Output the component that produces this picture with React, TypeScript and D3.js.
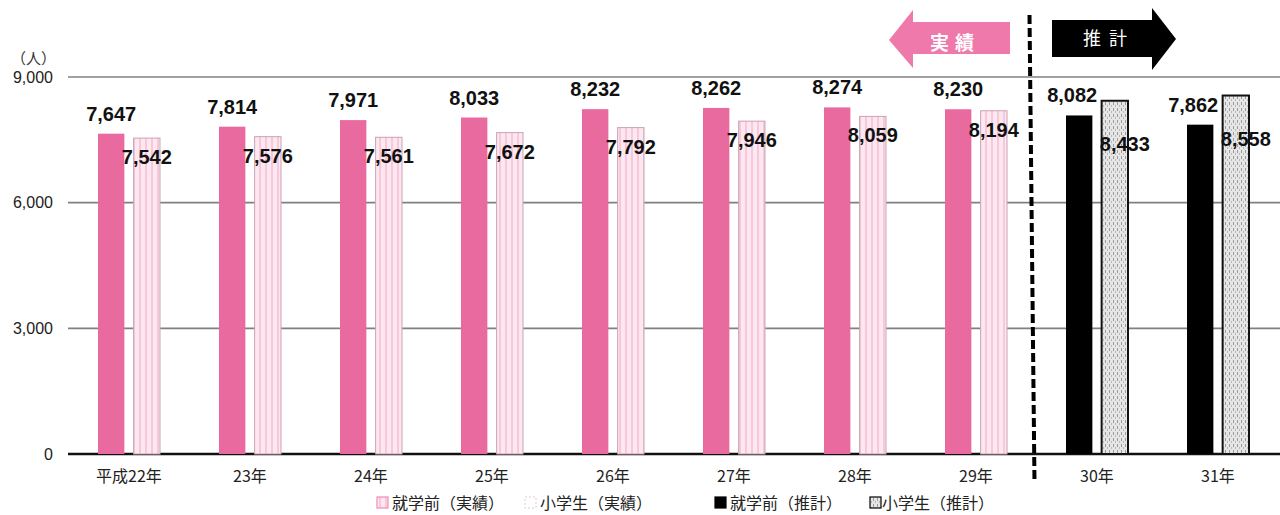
import * as d3 from "d3";

const years = ["平成22年", "23年", "24年", "25年", "26年", "27年", "28年", "29年", "30年", "31年"];
const preschool = [7647, 7814, 7971, 8033, 8232, 8262, 8274, 8230, 8082, 7862];
const elementary = [7542, 7576, 7561, 7672, 7792, 7946, 8059, 8194, 8433, 8558];
const phase = ["実績", "実績", "実績", "実績", "実績", "実績", "実績", "実績", "推計", "推計"];
const yTicks = [0, 3000, 6000, 9000];
const legendItems = ["就学前（実績）", "小学生（実績）", "就学前（推計）", "小学生（推計）"];

const W = 1280;
const H = 515;
const PINK = "#e96a9f";
const NUM_FONT = "'Liberation Sans', Arial, sans-serif";
const JP_FONT = "'Noto Sans CJK JP', sans-serif";

const fmt = d3.format(",");

const App = () => {
  const y = d3.scaleLinear().domain([0, 9000]).range([454, 77]);
  const x0 = d3.scaleBand<string>().domain(years).range([68.5, 1278.5]).padding(0);
  const step = x0.step();
  const x1 = d3
    .scaleBand<string>()
    .domain(["pre", "elem"])
    .range([(step - 62) / 2, (step + 62) / 2])
    .paddingInner(0.26);
  const bw = x1.bandwidth();

  // dashed divider sits at the start of the first estimate group
  const firstEst = phase.indexOf("推計");
  const splitX = x0(years[firstEst])! - 5;

  const legendX = [377, 525, 715, 870];

  return (
    <div style={{ position: "absolute", left: 0, top: 0 }}>
      <svg width={W} height={H} style={{ display: "block", background: "#fff" }}>
        <defs>
          <pattern id="stripe" width={6} height={12} patternUnits="userSpaceOnUse">
            <rect width={6} height={12} fill="#fde8f1" />
            <line x1={2} y1={0} x2={2} y2={12} stroke="#f5bcd3" strokeWidth={1.5} />
          </pattern>
          <pattern id="dots" width={4} height={6} patternUnits="userSpaceOnUse">
            <rect width={4} height={6} fill="#e6e6e6" />
            <rect x={1} y={0} width={1} height={3} fill="#9c9c9c" />
            <rect x={3} y={3} width={1} height={2} fill="#b8b8b8" />
          </pattern>
        </defs>

        {/* grid */}
        {yTicks.map((t) => (
          <g key={t}>
            <line
              x1={68}
              x2={W}
              y1={y(t)}
              y2={y(t)}
              stroke={t === 0 ? "#111" : "#808080"}
              strokeWidth={t === 0 ? 2.5 : 1.6}
            />
            <text
              x={53}
              y={y(t)}
              dy="0.36em"
              textAnchor="end"
              fontFamily={NUM_FONT}
              fontSize={16}
              fill="#222"
            >
              {fmt(t)}
            </text>
          </g>
        ))}
        <text x={56} y={64} textAnchor="end" fontFamily={JP_FONT} fontSize={15} fill="#333">
          （人）
        </text>

        {/* bars */}
        {years.map((yr, i) => {
          const est = phase[i] === "推計";
          const gx = x0(yr)!;
          const px = gx + x1("pre")!;
          const ex = gx + x1("elem")!;
          return (
            <g key={yr}>
              <rect
                x={px}
                y={y(preschool[i])}
                width={bw}
                height={y(0) - y(preschool[i])}
                fill={est ? "#000" : PINK}
              />
              <rect
                x={ex}
                y={y(elementary[i])}
                width={bw}
                height={y(0) - y(elementary[i])}
                fill={est ? "url(#dots)" : "url(#stripe)"}
                stroke={est ? "#111" : "#c9a3b3"}
                strokeWidth={est ? 2 : 1}
              />
              <text
                x={px + bw / 2 - (est ? 7 : 0)}
                y={y(preschool[i]) - 13}
                textAnchor="middle"
                fontFamily={NUM_FONT}
                fontWeight="bold"
                fontSize={20}
                fill="#111"
              >
                {fmt(preschool[i])}
              </text>
              <text
                x={ex + bw / 2 + (est ? 10 : 0)}
                y={y(elementary[i]) + (est ? 50 : 26)}
                textAnchor="middle"
                fontFamily={NUM_FONT}
                fontWeight="bold"
                fontSize={20}
                fill="#111"
              >
                {fmt(elementary[i])}
              </text>
              <text
                x={gx + step / 2}
                y={482}
                textAnchor="middle"
                fontFamily={JP_FONT}
                fontSize={16}
                fill="#222"
              >
                {yr}
              </text>
            </g>
          );
        })}

        {/* actual / estimate divider */}
        <line
          x1={splitX - 2}
          x2={splitX + 3}
          y1={15}
          y2={483}
          stroke="#000"
          strokeWidth={4}
          strokeDasharray="9 4"
        />

        {/* arrows */}
        <path d="M889,40 L913,10 L913,22 L1010,22 L1010,54 L913,54 L913,68 Z" fill="#ee79aa" />
        <text
          x={955}
          y={43}
          dy="0.36em"
          textAnchor="middle"
          fontFamily={JP_FONT}
          fontWeight="bold"
          fontSize={19}
          fill="#fff"
          letterSpacing={6}
        >
          実績
        </text>
        <path d="M1052,20 L1152,20 L1152,8 L1176,39 L1152,70 L1152,57 L1052,57 Z" fill="#000" />
        <text
          x={1109}
          y={39}
          dy="0.36em"
          textAnchor="middle"
          fontFamily={JP_FONT}
          fontSize={18}
          fill="#fff"
          letterSpacing={8}
        >
          推計
        </text>

        {/* legend */}
        {legendItems.map((lab, i) => {
          const lx = legendX[i];
          const fills = ["url(#stripe)", "#fff", "#000", "url(#dots)"];
          const strokes = ["#f08ab5", "#e0c8d2", "#000", "#000"];
          return (
            <g key={lab}>
              <rect
                x={lx}
                y={497}
                width={11}
                height={11}
                fill={fills[i]}
                stroke={strokes[i]}
                strokeWidth={i === 1 ? 1 : 1.2}
                strokeDasharray={i === 1 ? "2 2" : undefined}
              />
              <text
                x={lx + (i === 3 ? 12 : 15)}
                y={503}
                dy="0.36em"
                fontFamily={JP_FONT}
                fontSize={16}
                fill="#222"
              >
                {lab}
              </text>
            </g>
          );
        })}
      </svg>
    </div>
  );
};

export default App;
